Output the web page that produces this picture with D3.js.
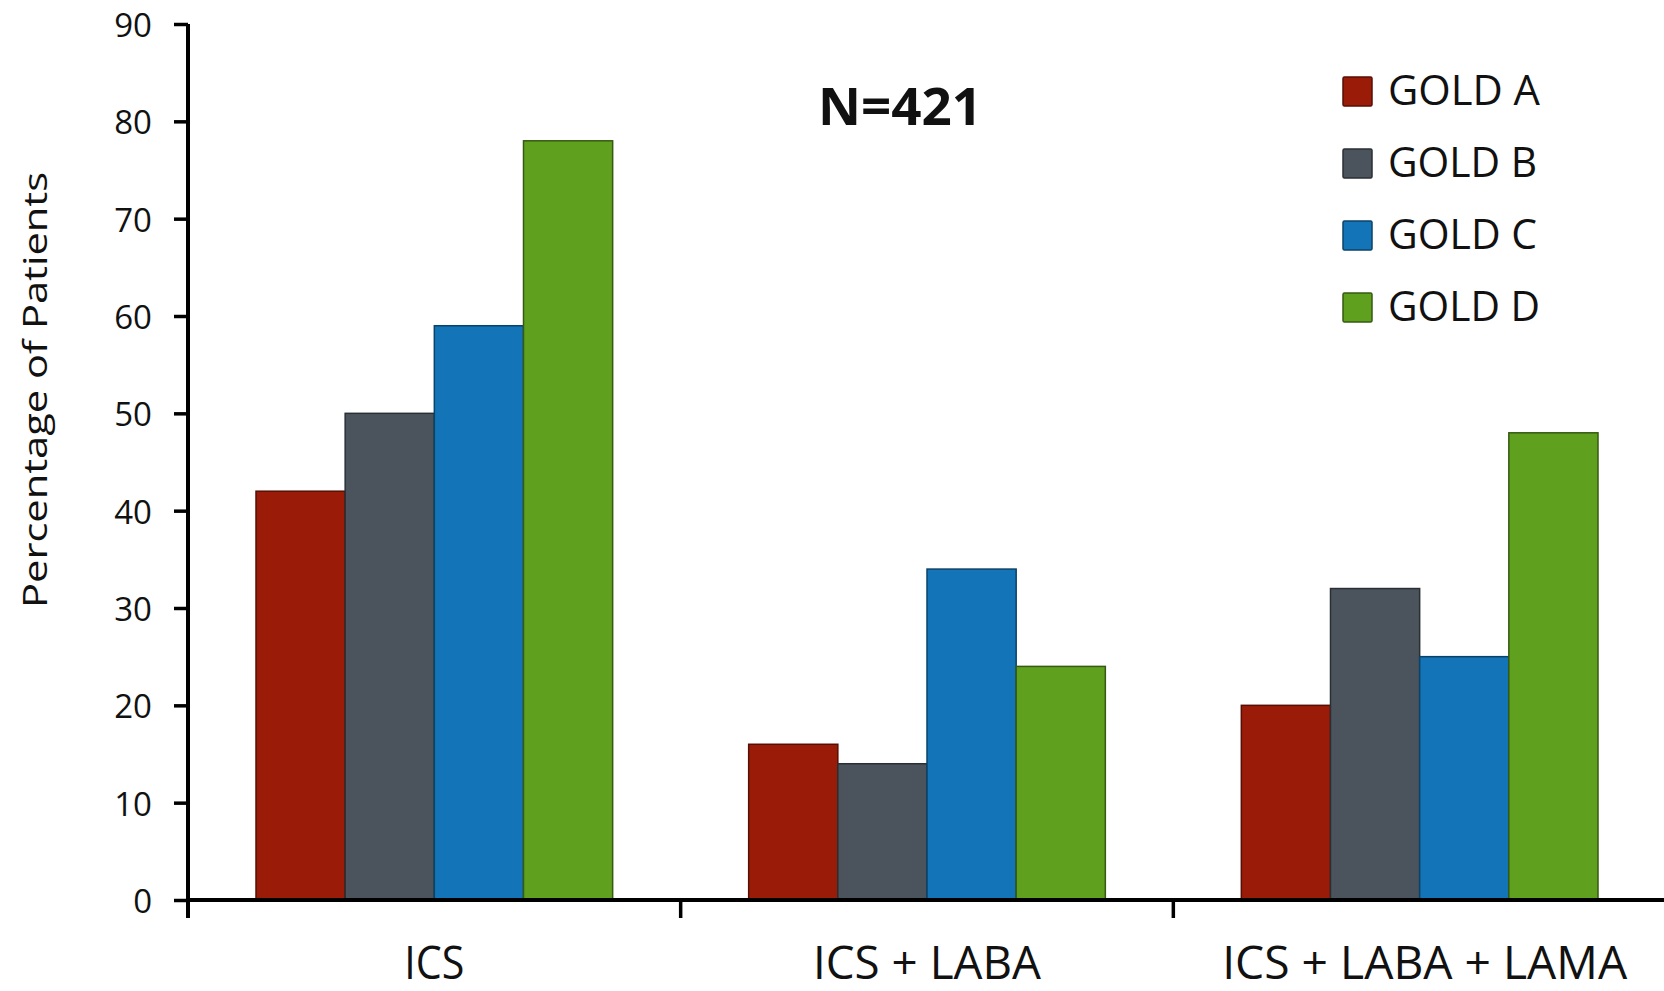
<!DOCTYPE html>
<html>
<head>
<meta charset="utf-8">
<script src="https://cdn.jsdelivr.net/npm/d3@7"></script>
<style>
  html, body { margin: 0; padding: 0; background: #fff; }
  svg { display: block; font-family: "Open Sans", "DejaVu Sans", sans-serif; }
</style>
</head>
<body>
<svg id="chart" width="1664" height="991"></svg>
<script>
// Treatment groups on the x axis
const categories = ["ICS", "ICS + LABA", "ICS + LABA + LAMA"];
// GOLD classes (series)
const series = ["GOLD A", "GOLD B", "GOLD C", "GOLD D"];
const seriesColors = ["#9a1b08", "#4b545c", "#1375b8", "#5fa01f"];
// Percentage of patients, one array per GOLD class, ordered like categories
const goldA = [42, 16, 20];
const goldB = [50, 14, 32];
const goldC = [59, 34, 25];
const goldD = [78, 24, 48];
const yTicks = [0, 10, 20, 30, 40, 50, 60, 70, 80, 90];
const sampleLabel = "N=421";

const values = [goldA, goldB, goldC, goldD];
const rows = categories.map((c, i) => ({
  category: c,
  bars: series.map((s, j) => ({ key: s, value: values[j][i], color: seriesColors[j] }))
}));

const svg = d3.select("#chart");

const x0 = d3.scaleBand().domain(categories).range([188, 1666]).paddingInner(0).paddingOuter(0);
const groupPad = 68;
const x1 = d3.scaleBand().domain(series).range([groupPad, x0.bandwidth() - groupPad]).padding(0);
const y = d3.scaleLinear().domain([0, 90]).range([900, 24]);

// Bars
const groups = svg.append("g").selectAll("g")
  .data(rows).join("g")
  .attr("transform", d => `translate(${x0(d.category)},0)`);

groups.selectAll("rect")
  .data(d => d.bars).join("rect")
  .attr("x", d => x1(d.key))
  .attr("y", d => y(d.value))
  .attr("width", x1.bandwidth())
  .attr("height", d => y(0) - y(d.value))
  .attr("fill", d => d.color)
  .attr("stroke", d => d3.color(d.color).darker(1.6))
  .attr("stroke-width", 1.5);

// Y axis
const yAxis = svg.append("g")
  .attr("transform", "translate(188,0)")
  .call(d3.axisLeft(y).tickValues(yTicks).tickSize(14).tickPadding(22).tickSizeOuter(0));
yAxis.select(".domain").attr("stroke", "#000").attr("stroke-width", 4)
  .attr("d", `M0,${y(90)}V918`);
yAxis.selectAll(".tick line").attr("stroke", "#000").attr("stroke-width", 3.5);
yAxis.selectAll(".tick text")
  .attr("fill", "#111")
  .attr("font-size", 33)
  .attr("font-family", "Open Sans")
  .attr("dy", "0.38em");

// X axis with ticks at the group boundaries
const bounds = categories.map(c => x0(c)).concat([x0.range()[1]]);
const xAxisG = svg.append("g");
xAxisG.append("line")
  .attr("x1", 186).attr("x2", 1664)
  .attr("y1", y(0)).attr("y2", y(0))
  .attr("stroke", "#000").attr("stroke-width", 4);
xAxisG.selectAll("line.tk")
  .data(bounds.slice(1)).join("line")
  .attr("class", "tk")
  .attr("x1", d => d).attr("x2", d => d)
  .attr("y1", y(0)).attr("y2", 918)
  .attr("stroke", "#000").attr("stroke-width", 3.5);

// Category labels
const catWidths = { "ICS": 60, "ICS + LABA": 228, "ICS + LABA + LAMA": 405 };
xAxisG.selectAll("text")
  .data(categories).join("text")
  .attr("x", d => x0(d) + x0.bandwidth() / 2 + (d === "ICS + LABA + LAMA" ? 5 : 0))
  .attr("y", 979)
  .attr("text-anchor", "middle")
  .attr("font-size", 45)
  .attr("fill", "#111")
  .attr("textLength", d => catWidths[d])
  .attr("lengthAdjust", "spacingAndGlyphs")
  .text(d => d);

// Y axis title
svg.append("text")
  .attr("transform", "translate(47,390) rotate(-90)")
  .attr("text-anchor", "middle")
  .attr("font-size", 33)
  .attr("fill", "#111")
  .attr("textLength", 436)
  .attr("lengthAdjust", "spacingAndGlyphs")
  .text("Percentage of Patients");

// Sample size annotation
svg.append("text")
  .attr("x", 818).attr("y", 125)
  .attr("font-size", 52)
  .attr("font-weight", "bold")
  .attr("fill", "#111")
  .attr("textLength", 164)
  .attr("lengthAdjust", "spacingAndGlyphs")
  .text(sampleLabel);

// Legend
const legend = svg.append("g").attr("transform", "translate(1343,0)");
const leg = legend.selectAll("g")
  .data(series).join("g")
  .attr("transform", (d, i) => `translate(0,${105 + i * 72})`);
leg.append("rect")
  .attr("x", 0).attr("y", -28)
  .attr("width", 29).attr("height", 29)
  .attr("rx", 1.5)
  .attr("fill", (d, i) => seriesColors[i])
  .attr("stroke", (d, i) => d3.color(seriesColors[i]).darker(1.6))
  .attr("stroke-width", 1.5);
leg.append("text")
  .attr("x", 45).attr("y", 0)
  .attr("font-size", 42)
  .attr("fill", "#111")
  .attr("textLength", d => d === "GOLD A" ? 152 : (d === "GOLD D" ? 152 : 149))
  .attr("lengthAdjust", "spacingAndGlyphs")
  .text(d => d);
</script>
</body>
</html>
